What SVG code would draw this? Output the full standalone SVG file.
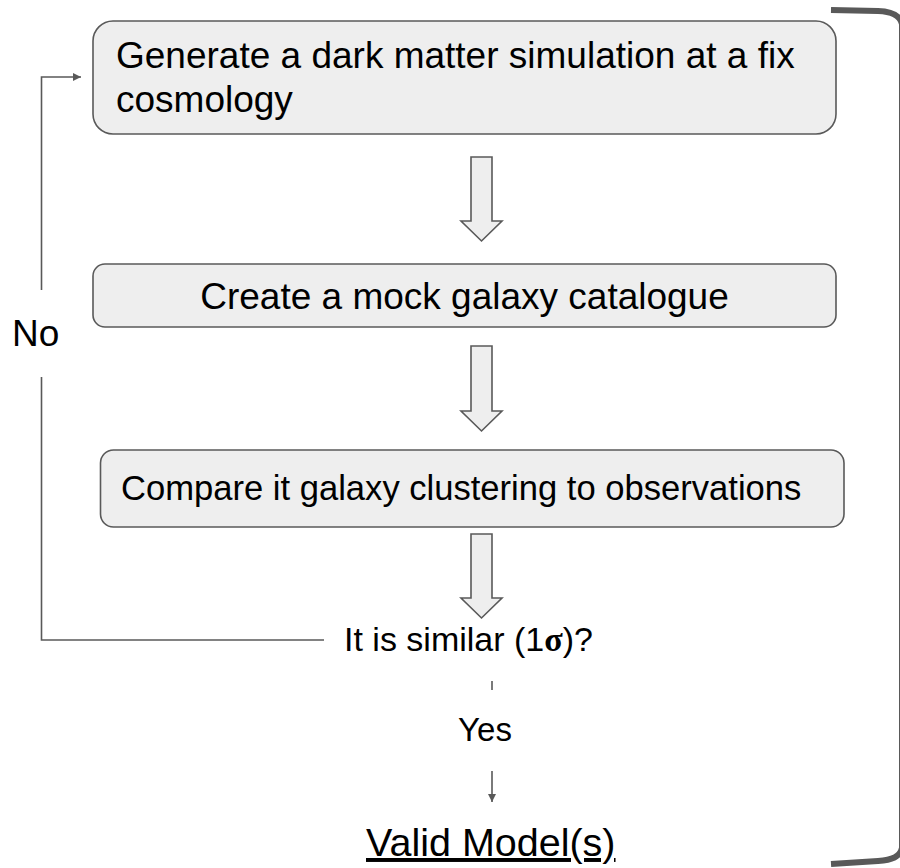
<svg xmlns="http://www.w3.org/2000/svg" width="900" height="868" viewBox="0 0 900 868">
  <style>
    .box { fill: #eeeeee; stroke: #595959; stroke-width: 1.6; }
    .blk { fill: #eeeeee; stroke: #595959; stroke-width: 1.6; stroke-linejoin: miter; }
    .conn { fill: none; stroke: #595959; stroke-width: 1.6; }
    .t { font-family: "Liberation Sans", Arial, sans-serif; fill: #000000; }
  </style>
  <defs>
    <marker id="ah" viewBox="0 0 10 10" refX="10" refY="5" markerWidth="8" markerHeight="8" markerUnits="userSpaceOnUse" orient="auto">
      <path d="M0,0 L10,5 L0,10 Z" fill="#595959"/>
    </marker>
  </defs>
  <rect width="900" height="868" fill="#ffffff"/>

  <g id="bracket">
    <path d="M831,10 L878,11 C892,11.5 900,15 902,24 L902,848 C900,857 892,860 878,861 L831,864" fill="none" stroke="#595959" stroke-width="6"/>
  </g>

  <g id="connectors">
    <polyline class="conn" points="324,640 41.5,640 41.5,377"/>
    <polyline class="conn" points="41.5,290 41.5,77 81,77" marker-end="url(#ah)"/>
    <line class="conn" x1="492" y1="681" x2="492" y2="802" marker-end="url(#ah)"/>
    <rect x="450" y="690" width="80" height="81" fill="#ffffff"/>
    <path id="arrow1" class="blk" d="M471,157 L492,157 L492,221 L502,221 L481.5,241 L461,221 L471,221 Z"/>
    <path id="arrow2" class="blk" d="M471,346 L492,346 L492,411 L502,411 L481.5,431 L461,411 L471,411 Z"/>
    <path id="arrow3" class="blk" d="M471,534 L492,534 L492,598 L502,598 L481.5,618 L461,598 L471,598 Z"/>
  </g>

  <g id="node1">
    <rect class="box" x="93" y="21" width="743" height="113" rx="20" ry="20"/>
    <text class="t" x="116" y="68" font-size="37">Generate a dark matter simulation at a fix</text>
    <text class="t" x="116" y="112" font-size="37">cosmology</text>
  </g>

  <g id="node2">
    <rect class="box" x="93" y="264" width="743" height="63" rx="12" ry="12"/>
    <text class="t" x="464.5" y="309" font-size="37" text-anchor="middle">Create a mock galaxy catalogue</text>
  </g>

  <g id="node3">
    <rect class="box" x="100.5" y="450" width="743.5" height="77" rx="13" ry="13"/>
    <text class="t" x="121" y="500" font-size="34.6">Compare it galaxy clustering to observations</text>
  </g>

  <g id="decision">
    <text class="t" x="344" y="651" font-size="34">It is similar (1<tspan font-family="'Liberation Serif', 'Times New Roman', serif" font-weight="bold">σ</tspan>)?</text>
  </g>

  <g id="label-no">
    <text class="t" x="12" y="346" font-size="37">No</text>
  </g>

  <g id="label-yes">
    <text class="t" x="485" y="741" font-size="33" text-anchor="middle">Yes</text>
  </g>

  <g id="result">
    <text class="t" x="366" y="856" font-size="39.5" text-decoration="underline">Valid Model(s)</text>
  </g>
</svg>
